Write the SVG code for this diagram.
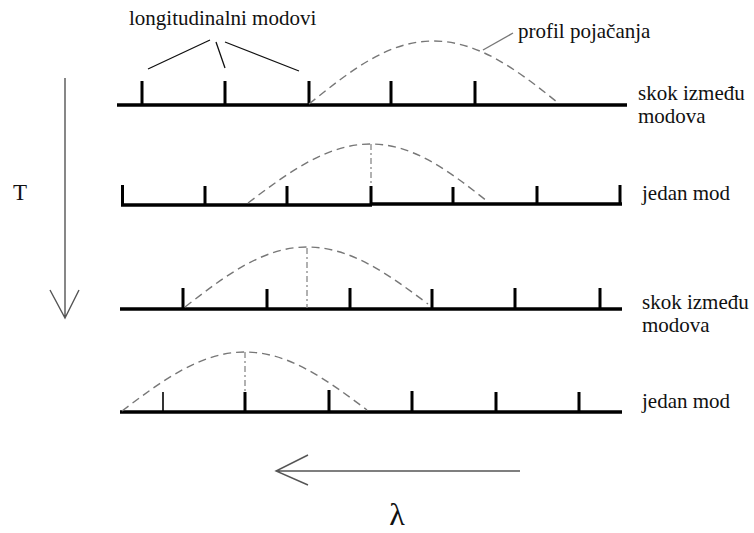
<svg xmlns="http://www.w3.org/2000/svg" width="754" height="533" viewBox="0 0 754 533" font-family="'Liberation Serif','Times New Roman','DejaVu Serif',serif">
<style>
text{font-family:"Liberation Serif","Times New Roman","DejaVu Serif",serif}
.lbl{font-size:21px;fill:#111}
.base{stroke:#000;stroke-width:3.5;fill:none}
.tick{stroke:#000;stroke-width:3;fill:none}
.gain{stroke:#777;stroke-width:1.4;fill:none;stroke-dasharray:8 5}
.peak{stroke:#888;stroke-width:1.3;fill:none;stroke-dasharray:6 3 2 3}
.lead{stroke:#111;stroke-width:1.3;fill:none}
.axis{stroke:#555;stroke-width:1.4;fill:none}
</style>
<rect width="754" height="533" fill="#fff"/>
<g id="row1">
<line class="base" x1="117" y1="105" x2="627" y2="105"/>
<path class="tick" d="M142 81V105M225 81V105M309 81V105M391 81V105M475 81V105"/>
<path class="gain" d="M309 104C350 71 388 41 433 41C478 41 516 69 557 102"/>
<text class="lbl" x="638" y="100" font-family="Liberation Serif, serif">skok između</text>
<text class="lbl" x="638" y="123" font-family="Liberation Serif, serif">modova</text>
</g>
<g id="row2">
<line class="base" x1="121" y1="205" x2="372" y2="205"/>
<line class="base" x1="370" y1="204" x2="622" y2="204"/>
<path class="tick" d="M122.5 185V205M205 186V205M287 186V205M371 186V205M453 187V205M537 186V205M620 185V205"/>
<path class="gain" d="M248 203C289 172 327 144 371 144C413 144 449 171 487 201"/>
<line class="peak" x1="371" y1="144" x2="371" y2="186"/>
<text class="lbl" x="642" y="200" font-family="Liberation Serif, serif">jedan mod</text>
</g>
<g id="row3">
<line class="base" x1="120" y1="309" x2="622" y2="309"/>
<path class="tick" d="M183 288V309M267 289V309M350 288V309M432 289V309M515 288V309M600 288V309"/>
<path class="gain" d="M185 307C225 276 263 247 307 247C351 247 388 274 428 304"/>
<line class="peak" x1="307" y1="248" x2="307" y2="308"/>
<text class="lbl" x="642" y="309" font-family="Liberation Serif, serif">skok između</text>
<text class="lbl" x="642" y="332" font-family="Liberation Serif, serif">modova</text>
</g>
<g id="row4">
<line class="base" x1="120" y1="412" x2="622" y2="412"/>
<path class="tick" d="M245 392V412M329 390V412M412 391V412M496 392V412M579 392V412"/>
<line class="tick" x1="163" y1="392" x2="163" y2="412" style="stroke-width:1.6"/>
<path class="gain" d="M122 411C163 380 201 352 245 352C289 352 327 380 367 410"/>
<line class="peak" x1="245" y1="352" x2="245" y2="392"/>
<text class="lbl" x="642" y="408" font-family="Liberation Serif, serif">jedan mod</text>
</g>
<g id="longitudinalni-modovi">
<text class="lbl" x="129" y="25" font-family="Liberation Serif, serif">longitudinalni modovi</text>
</g>
<g id="profil-pojacanja">
<text class="lbl" x="518" y="38" font-family="Liberation Serif, serif">profil pojačanja</text>
</g>
<g id="T-axis">
<text class="lbl" x="13" y="200" font-family="Liberation Serif, serif" style="font-size:23px">T</text>
</g>
<g id="lambda-axis">
<text class="lbl" x="397" y="525" text-anchor="middle" font-family="Liberation Serif, serif" style="font-size:32px">λ</text>
</g>
<g id="connectors">
<path class="lead" d="M210 40L148 69M216 42L225 68M225 42L299 71"/>
<line class="gain" x1="483" y1="50" x2="513" y2="33" style="stroke-dasharray:none"/>
<path class="axis" d="M65 78V318M50 290L65 318L79 290"/>
<path class="axis" d="M520 471H276M308 455L276 471L308 485"/>
</g>
</svg>
